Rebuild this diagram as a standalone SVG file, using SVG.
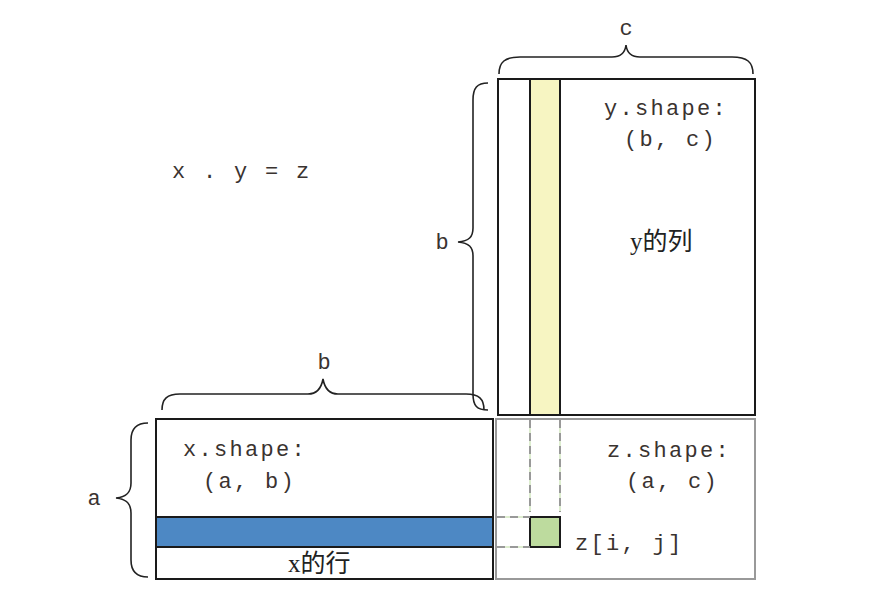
<svg xmlns="http://www.w3.org/2000/svg" width="880" height="602" viewBox="0 0 880 602">
<style>
.mono{font-family:"Liberation Mono","Courier New",monospace;font-size:22px;fill:#3a3330;letter-spacing:2.3px}
.lbl{font-family:"Liberation Mono","Courier New",monospace;font-size:22px;fill:#3a3330}
.cjk{font-family:"Liberation Serif","Noto Sans CJK SC",serif;font-size:25px;fill:#222}
.blk{fill:none;stroke:#1a1a1a;stroke-width:2}
.brace{fill:none;stroke:#222;stroke-width:1.6}
.dash{stroke:#999;stroke-width:2;stroke-dasharray:8 5}
.gl{stroke:#bcdca0;stroke-width:1}
</style>
<rect width="880" height="602" fill="#fff"/>
<text class="mono" x="172" y="178">x . y = z</text>
<g id="y-matrix">
<rect x="530" y="79" width="30" height="336" fill="#f7f5c2" stroke="#1a1a1a" stroke-width="2"/>
<rect class="blk" x="498" y="79" width="257" height="336"/>
<text class="mono" x="604" y="115">y.shape:</text>
<text class="mono" x="624" y="146">(b, c)</text>
<text class="cjk" x="630" y="250">y的列</text>
</g>
<g id="x-matrix">
<rect x="156" y="517" width="337" height="30" fill="#4d88c4" stroke="#1a1a1a" stroke-width="2"/>
<rect class="blk" x="156" y="419" width="337" height="160"/>
<text class="mono" x="183" y="456">x.shape:</text>
<text class="mono" x="203" y="488">(a, b)</text>
<text class="cjk" x="288" y="572">x的行</text>
</g>
<g id="z-matrix">
<rect x="496" y="419" width="259" height="160" fill="none" stroke="#999" stroke-width="2"/>
<rect x="530" y="517" width="30" height="30" fill="#bddb9e" stroke="#1a1a1a" stroke-width="2"/>
<text class="mono" x="607" y="457">z.shape:</text>
<text class="mono" x="626" y="488">(a, c)</text>
<text class="mono" x="575" y="550">z[i, j]</text>
</g>
<g id="connectors">
<line class="gl" x1="530" y1="420" x2="530" y2="512"/>
<line class="gl" x1="560" y1="420" x2="560" y2="512"/>
<line class="gl" x1="497" y1="517" x2="530" y2="517"/>
<line class="gl" x1="497" y1="547" x2="530" y2="547"/>
<line class="dash" x1="530" y1="420" x2="530" y2="512"/>
<line class="dash" x1="560" y1="420" x2="560" y2="512"/>
<line class="dash" x1="497" y1="517" x2="530" y2="517"/>
<line class="dash" x1="497" y1="547" x2="530" y2="547"/>
</g>
<g id="brace-c">
<path class="brace" d="M499,74 C499,62 505,57 520,57 L612,57 C620,57 625,53 626,45 C627,53 632,57 640,57 L732,57 C747,57 753,62 753,74"/>
<text class="lbl" x="626" y="35" text-anchor="middle">c</text>
</g>
<g id="brace-b-y">
<path class="brace" d="M488,83 C477,83 473,88 473,100 L473,228 C473,237 469,241 458,242 C469,243 473,247 473,256 L473,394 C473,406 477,410 488,410"/>
<text class="lbl" x="442" y="249" text-anchor="middle">b</text>
</g>
<g id="brace-b-x">
<path class="brace" d="M162,410 C162,399 167,394 180,394 L308,394 C316,394 321,390 323,379 C325,390 330,394 338,394 L466,394 C479,394 484,399 484,410"/>
<text class="lbl" x="324" y="369" text-anchor="middle">b</text>
</g>
<g id="brace-a">
<path class="brace" d="M148,423 C137,423 131,428 131,440 L131,483 C131,492 127,497 116,498 C127,499 131,504 131,513 L131,560 C131,572 137,577 148,577"/>
<text class="lbl" x="94" y="505" text-anchor="middle">a</text>
</g>
</svg>
